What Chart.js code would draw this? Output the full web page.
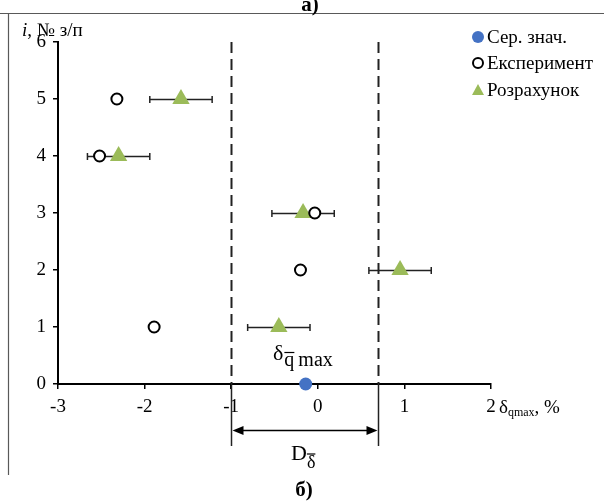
<!DOCTYPE html>
<html>
<head>
<meta charset="utf-8">
<script src="https://cdn.jsdelivr.net/npm/chart.js@4.4.0/dist/chart.umd.min.js"></script>
<style>
html,body{margin:0;padding:0;background:#fff;}
#wrap{width:607px;height:502px;position:relative;}
</style>
</head>
<body>
<div id="wrap"><canvas id="c" width="607" height="502"></canvas></div>
<script>
// ---- data ----
const rowIndex = [1, 2, 3, 4, 5];
const meanX = [-0.14];
const meanY = [0];
const experimentX = [-1.89, -0.2, -0.035, -2.52, -2.32];
const calcX = [-0.45, 0.95, -0.17, -2.30, -1.58];
const calcErr = [0.36, 0.36, 0.36, 0.36, 0.36];
const limitX = [-1.0, 0.7];
const xTicks = [-3, -2, -1, 0, 1, 2];
const yTicks = [0, 1, 2, 3, 4, 5, 6];
const seriesNames = ['Сер. знач.', 'Експеримент', 'Розрахунок'];

const SERIF = '"Liberation Serif", "Times New Roman", serif';
const BLUE = '#4472C4';
const GREEN = '#9BBB59';

const pts = (xs, ys) => xs.map((x, i) => ({x: x, y: ys[i]}));

const decor = {
  id: 'decor',
  beforeDatasetsDraw(chart) {
    const ctx = chart.ctx, xs = chart.scales.x, ys = chart.scales.y, ca = chart.chartArea;
    ctx.save();
    // limit lines
    limitX.forEach(v => {
      const px = Math.round(xs.getPixelForValue(v)) + 0.5;
      ctx.strokeStyle = '#222';
      ctx.lineWidth = 2;
      ctx.setLineDash([11, 6]);
      ctx.beginPath(); ctx.moveTo(px, ca.top); ctx.lineTo(px, ca.bottom); ctx.stroke();
      ctx.setLineDash([]);
      ctx.lineWidth = 1.5;
      ctx.beginPath(); ctx.moveTo(px, ca.bottom); ctx.lineTo(px, ca.bottom + 62); ctx.stroke();
    });
    // error bars
    ctx.strokeStyle = '#222';
    ctx.lineWidth = 1.5;
    calcX.forEach((v, i) => {
      const py = Math.round(ys.getPixelForValue(rowIndex[i])) + 0.5;
      const a = xs.getPixelForValue(v - calcErr[i]);
      const b = xs.getPixelForValue(v + calcErr[i]);
      ctx.beginPath();
      ctx.moveTo(a, py); ctx.lineTo(b, py);
      ctx.moveTo(a, py - 3.5); ctx.lineTo(a, py + 3.5);
      ctx.moveTo(b, py - 3.5); ctx.lineTo(b, py + 3.5);
      ctx.stroke();
    });
    ctx.restore();
  },
  afterDraw(chart) {
    const ctx = chart.ctx, xs = chart.scales.x, ys = chart.scales.y, ca = chart.chartArea;
    ctx.save();
    // frame
    ctx.strokeStyle = '#595959';
    ctx.lineWidth = 1.2;
    ctx.beginPath();
    ctx.moveTo(0, 13.5); ctx.lineTo(604, 13.5);
    ctx.moveTo(8.5, 13.5); ctx.lineTo(8.5, 475);
    ctx.stroke();
    // titles
    ctx.fillStyle = '#000';
    ctx.textAlign = 'center';
    ctx.textBaseline = 'alphabetic';
    ctx.font = 'bold 21px ' + SERIF;
    ctx.fillText('а)', 310, 11);
    ctx.fillText('б)', 304, 496);
    // y axis title
    ctx.textAlign = 'left';
    ctx.font = 'italic 19px ' + SERIF;
    ctx.fillText('i', 22, 36);
    const iw = ctx.measureText('i').width;
    ctx.font = '19px ' + SERIF;
    ctx.fillText(', № з/п', 22 + iw, 36);
    // x axis title
    const bx = ca.right + 8, by = ca.bottom + 29;
    ctx.font = '19px ' + SERIF;
    ctx.fillText('δ', bx, by);
    let w = ctx.measureText('δ').width;
    ctx.font = '12px ' + SERIF;
    ctx.fillText('qmax', bx + w, by + 3);
    w += ctx.measureText('qmax').width;
    ctx.font = '19px ' + SERIF;
    ctx.fillText(', %', bx + w, by);
    // legend
    const lx = 478, ly = [37, 63, 90];
    ctx.font = '19px ' + SERIF;
    ctx.textBaseline = 'middle';
    ctx.fillStyle = BLUE;
    ctx.beginPath(); ctx.arc(lx, ly[0], 6, 0, Math.PI * 2); ctx.fill();
    ctx.strokeStyle = '#000'; ctx.lineWidth = 2; ctx.fillStyle = '#fff';
    ctx.beginPath(); ctx.arc(lx, ly[1], 5, 0, Math.PI * 2); ctx.fill(); ctx.stroke();
    ctx.fillStyle = GREEN;
    ctx.beginPath(); ctx.moveTo(lx, ly[2] - 6); ctx.lineTo(lx + 6, ly[2] + 5); ctx.lineTo(lx - 6, ly[2] + 5); ctx.closePath(); ctx.fill();
    ctx.fillStyle = '#000';
    seriesNames.forEach((n, i) => ctx.fillText(n, lx + 9, ly[i] + 1));
    // delta q max label
    ctx.textBaseline = 'alphabetic';
    const dx = 273, dy = 360;
    ctx.font = '22px ' + SERIF;
    ctx.fillText('δ', dx, dy);
    const dw = ctx.measureText('δ').width;
    ctx.font = '20px ' + SERIF;
    ctx.fillText('q', dx + dw + 1, dy + 6);
    const qw = ctx.measureText('q').width;
    ctx.strokeStyle = '#000'; ctx.lineWidth = 1.2;
    ctx.beginPath(); ctx.moveTo(dx + dw + 1, dy - 7.5); ctx.lineTo(dx + dw + 1 + qw, dy - 7.5); ctx.stroke();
    ctx.fillText('max', dx + dw + qw + 5, dy + 6);
    // D arrow
    const a = Math.round(xs.getPixelForValue(limitX[0])) + 0.5;
    const b = Math.round(xs.getPixelForValue(limitX[1])) + 0.5;
    const ay = ca.bottom + 46.5;
    ctx.strokeStyle = '#000'; ctx.lineWidth = 1.5;
    ctx.beginPath(); ctx.moveTo(a + 6, ay); ctx.lineTo(b - 6, ay); ctx.stroke();
    ctx.fillStyle = '#000';
    ctx.beginPath(); ctx.moveTo(a + 1, ay); ctx.lineTo(a + 12, ay - 4.5); ctx.lineTo(a + 12, ay + 4.5); ctx.closePath(); ctx.fill();
    ctx.beginPath(); ctx.moveTo(b - 1, ay); ctx.lineTo(b - 12, ay - 4.5); ctx.lineTo(b - 12, ay + 4.5); ctx.closePath(); ctx.fill();
    // D label
    const Dx = 291, Dy = ca.bottom + 76;
    ctx.font = '22px ' + SERIF;
    ctx.fillText('D', Dx, Dy);
    const Dw = ctx.measureText('D').width;
    ctx.font = '18px ' + SERIF;
    ctx.fillText('δ', Dx + Dw, Dy + 8);
    const sw = ctx.measureText('δ').width;
    ctx.lineWidth = 1.2;
    ctx.beginPath(); ctx.moveTo(Dx + Dw, Dy - 6); ctx.lineTo(Dx + Dw + sw, Dy - 6); ctx.stroke();
    ctx.restore();
  }
};

new Chart(document.getElementById('c'), {
  type: 'scatter',
  data: {
    datasets: [
      {
        label: seriesNames[1],
        data: pts(experimentX, rowIndex),
        pointStyle: 'circle', pointRadius: 5.5, pointBorderWidth: 2,
        backgroundColor: '#fff', borderColor: '#000', clip: false
      },
      {
        label: seriesNames[2],
        data: pts(calcX, rowIndex),
        pointStyle: 'triangle', pointRadius: 10, pointBorderWidth: 0,
        backgroundColor: GREEN, borderColor: GREEN, clip: false
      },
      {
        label: seriesNames[0],
        data: pts(meanX, meanY),
        pointStyle: 'circle', pointRadius: 6.5, pointBorderWidth: 0,
        backgroundColor: BLUE, borderColor: BLUE, clip: false
      }
    ]
  },
  options: {
    responsive: false,
    animation: false,
    devicePixelRatio: 1,
    layout: {padding: {left: 0, top: 42, right: 116, bottom: 88}},
    plugins: {legend: {display: false}, tooltip: {enabled: false}, title: {display: false}},
    scales: {
      x: {
        type: 'linear', min: xTicks[0], max: xTicks[xTicks.length - 1],
        afterBuildTicks(s) { s.ticks = xTicks.map(v => ({value: v})); },
        afterFit(s) { s.height = 30; },
        border: {color: '#000', width: 2},
        grid: {drawOnChartArea: false, drawTicks: true, tickLength: 5, color: '#000', lineWidth: 1.5},
        ticks: {color: '#000', padding: 7, maxRotation: 0, font: {family: SERIF, size: 19}}
      },
      y: {
        type: 'linear', min: yTicks[0], max: yTicks[yTicks.length - 1],
        afterBuildTicks(s) { s.ticks = yTicks.map(v => ({value: v})); },
        afterFit(s) { s.width = 58; },
        border: {color: '#000', width: 2},
        grid: {drawOnChartArea: false, drawTicks: true, tickLength: 5, color: '#000', lineWidth: 1.5},
        ticks: {color: '#000', padding: 7, font: {family: SERIF, size: 19}}
      }
    }
  },
  plugins: [decor]
});
</script>
</body>
</html>
